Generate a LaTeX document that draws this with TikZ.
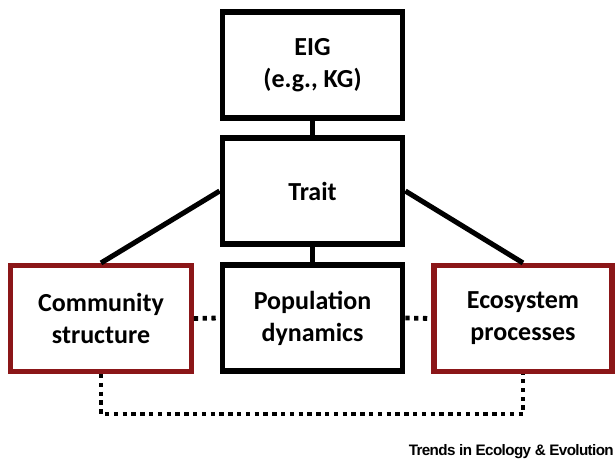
\documentclass[tikz,border=0pt]{standalone}
\usepackage{fontspec}
\setmainfont{Carlito}
\newfontfamily\journalfont{Liberation Sans}[LetterSpace=-4]
\definecolor{boxred}{RGB}{139,22,24}

\begin{document}
\begin{tikzpicture}[x=0.75pt,y=-0.75pt,
  box/.style={draw=black, line width=3.8pt, minimum width=135.5pt, minimum height=79.5pt,
    align=center, font=\fontsize{19.5}{24}\selectfont\bfseries, inner sep=0pt},
  redbox/.style={box, draw=boxred},
  link/.style={line width=3.8pt},
  dotlink/.style={line width=3.6pt, dash pattern=on 3.2pt off 3.4pt}]
\useasboundingbox (0,0) rectangle (615,460);
\node[box] (eig) at (312.5,65) {EIG\\(e.g., KG)};
\node[box] (trait) at (312.5,191) {Trait};
\node[box] (pop) at (312.5,318) {Population\\dynamics};
\node[redbox] (comm) at (101,318.5) {Community\\structure};
\node[redbox, minimum width=133.5pt] (eco) at (523,318.5) {Ecosystem\\processes};
\coordinate (bot) at (312.5,414);
\draw[link] (eig) -- (trait);
\draw[link] (trait) -- (pop);
\draw[link] (trait.west) -- (comm.north);
\draw[link] (trait.east) -- (eco.north);
\draw[dotlink] (comm.east) -- (pop.west);
\draw[dotlink] (pop.east) -- (eco.west);
\draw[dotlink] (comm.south) |- (bot) -| (eco.south);
\node[anchor=base east, inner sep=0pt, font=\journalfont\fontsize{11.4}{13}\selectfont\bfseries] (src) at (614,455) {Trends in Ecology \& Evolution};
\end{tikzpicture}
\end{document}
